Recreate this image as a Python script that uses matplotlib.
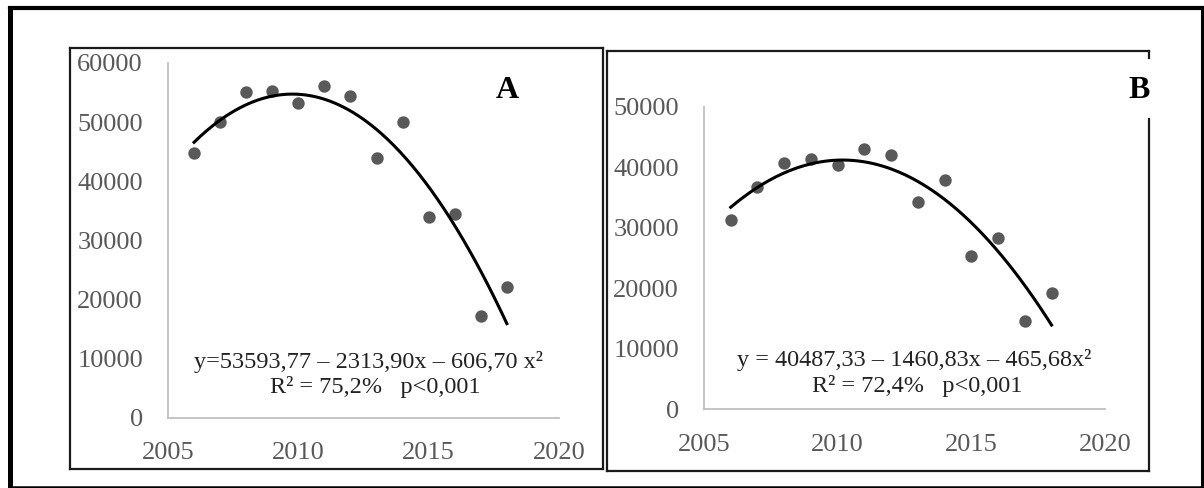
import numpy as np
import matplotlib
matplotlib.use("Agg")
import matplotlib.pyplot as plt
from matplotlib.lines import Line2D

plt.rcParams['font.family'] = ['Liberation Serif', 'DejaVu Serif']

W, H = 1204, 488

years = list(range(2006, 2019))
vals_a = [44800, 50000, 55100, 55200, 53200, 56100, 54400, 43900, 50000, 33900, 34400, 17200, 22200]
vals_b = [31300, 36800, 40800, 41400, 40400, 43000, 42000, 34300, 37900, 25300, 28300, 14600, 19200]
xticks = [2005, 2010, 2015, 2020]
yticks_a = [0, 10000, 20000, 30000, 40000, 50000, 60000]
yticks_b = [0, 10000, 20000, 30000, 40000, 50000]

eq_a = ["y=53593,77 \u2013 2313,90x \u2013 606,70 x\u00b2", "R\u00b2 = 75,2%   p<0,001"]
eq_b = ["y = 40487,33 \u2013 1460,83x \u2013 465,68x\u00b2", "R\u00b2 = 72,4%   p<0,001"]


def fx(px):
    return px / W


def fy(py):
    return 1 - py / H


fig = plt.figure(figsize=(W / 100, H / 100), dpi=100)


def panel(rect, vals, yticks, xpad):
    ax = fig.add_axes(rect)
    ax.scatter(years, vals, s=80, color='#595959', zorder=3, linewidths=0)
    xs = np.array(years) - 2012
    coef = np.polyfit(xs, vals, 2)
    t = np.linspace(xs[0], xs[-1], 200)
    ax.plot(t + 2012, np.polyval(coef, t), color='black', lw=2.2, zorder=4)
    ax.set_xlim(2005, 2020)
    ax.set_ylim(yticks[0], yticks[-1])
    ax.set_xticks(xticks)
    ax.set_yticks(yticks)
    for s in ['top', 'right']:
        ax.spines[s].set_visible(False)
    for s in ['left', 'bottom']:
        ax.spines[s].set_color('#bfbfbf')
        ax.spines[s].set_linewidth(1.3)
    ax.tick_params(length=0, labelsize=19, labelcolor='#595959')
    ax.tick_params(axis='y', pad=18)
    ax.tick_params(axis='x', pad=xpad)
    ax.patch.set_alpha(0)
    return ax


ax_a = panel([fx(168), fy(418), fx(559) - fx(168), fy(63) - fy(418)], vals_a, yticks_a, 17.5)
ax_b = panel([fx(704), fy(409), fx(1105) - fx(704), fy(107) - fy(409)], vals_b, yticks_b, 18)

# equations
fig.text(fx(368), fy(362), eq_a[0], ha='center', va='center', fontsize=17.5, color='#222222')
fig.text(fx(375), fy(387), eq_a[1], ha='center', va='center', fontsize=17.5, color='#222222')
fig.text(fx(914), fy(360), eq_b[0], ha='center', va='center', fontsize=17.5, color='#222222')
fig.text(fx(917), fy(386), eq_b[1], ha='center', va='center', fontsize=17.5, color='#222222')

# panel letters
fig.text(fx(507), fy(90), "A", ha='center', va='center', fontsize=23, fontweight='bold', color='black')
fig.text(fx(1139), fy(90), "B", ha='center', va='center', fontsize=23, fontweight='bold', color='black')


def seg(x0, y0, x1, y1, lw, color='#1a1a1a'):
    fig.add_artist(Line2D([fx(x0), fx(x1)], [fy(y0), fy(y1)], lw=lw, color=color,
                          transform=fig.transFigure, solid_capstyle='projecting'))


# panel A box
seg(70, 48, 603, 48, 1.6)
seg(70, 48, 70, 469, 1.6)
seg(603, 48, 603, 469, 1.6)
seg(70, 469, 603, 469, 1.6)

# panel B box, right side broken by the letter
seg(607, 51, 1149, 51, 1.6)
seg(607, 51, 607, 471, 1.6)
seg(607, 471, 1149, 471, 1.6)
seg(1149, 51, 1149, 58, 1.6)
seg(1149, 119, 1149, 471, 1.6)

# outer frame
seg(9.5, 8, 1202, 8, 3.0, 'black')
seg(9.5, 8, 9.5, 486.5, 3.6, 'black')
seg(9.5, 486.5, 1202, 486.5, 1.8, 'black')
seg(1202, 8, 1202, 486.5, 2.2, 'black')

fig.savefig('out.png', dpi=100)
